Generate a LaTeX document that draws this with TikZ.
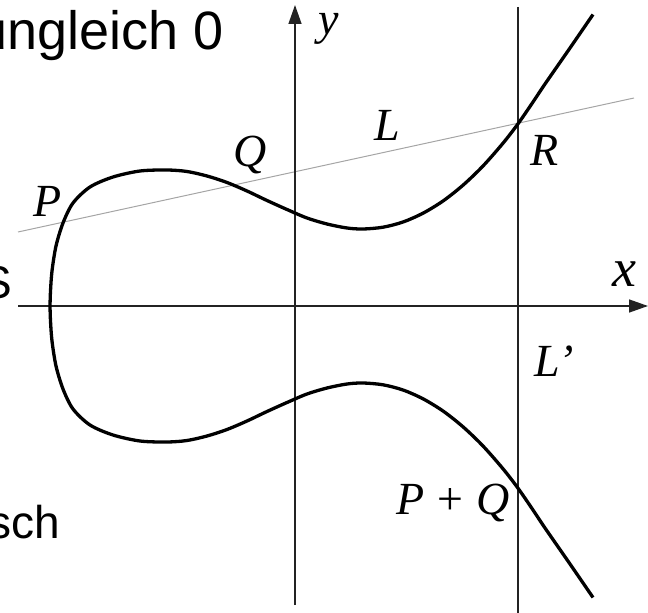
\documentclass[tikz,border=0pt]{standalone}
\usepackage{fontspec}
\setmainfont{Liberation Serif}
\newfontfamily\slidefont{Liberation Sans}
\usetikzlibrary{arrows.meta}
\definecolor{axisgray}{RGB}{35,35,35}
\definecolor{linegray}{RGB}{165,165,165}

\begin{document}
\begin{tikzpicture}[x=1pt, y=1pt,
    lbl/.style={inner sep=0pt, font=\fontsize{46}{50}\selectfont\itshape},
    slide/.style={inner sep=0pt, anchor=base east, font=\fontsize{46}{52}\slidefont},
    axis/.style={axisgray, line width=1.4pt},
    arr/.style={-{Triangle[length=19pt, width=13pt]}},
    curve/.style={black, line width=3.3pt, line join=round}
  ]
  \useasboundingbox (0,-307) rectangle (648,306);
  \clip (0,-307) rectangle (648,306);

  % slide text behind the figure
  \node[slide, font=\fontsize{54}{60}\slidefont] (tungleich) at (224,256) {ungleich 0};
  \node[slide] (tS)   at (12,7)    {S};
  \node[slide] (tsch) at (60,-232) {sch};

  % secant L
  \coordinate (Lstart) at (18,74);
  \coordinate (Lend)   at (634,208);
  \draw[linegray, line width=1pt] (Lstart) -- (Lend);

  % axes and vertical L'
  \coordinate (xstart) at (18,0);
  \coordinate (xend)   at (648,0);
  \coordinate (ystart) at (295,-299);
  \coordinate (yend)   at (295,301);
  \coordinate (Lptop)  at (518,299);
  \coordinate (Lpbot)  at (518,-307);
  \draw[axis, arr] (xstart) -- (xend);
  \draw[axis, arr] (ystart) -- (yend);
  \draw[axis] (Lptop) -- (Lpbot);

  % elliptic curve, upper and lower half
  \foreach \s in {1,-1}
    \draw[curve, yscale=\s] plot[smooth] coordinates {
      (50,0) (50.5,15) (52,35) (56,60) (63,83) (73,103) (90,119)
      (113,129) (140,135) (167,136) (187,134.5) (207,130) (227,123.5)
      (247,115) (267,105.5) (287,96.5) (307,88) (327,82) (347,78)
      (363,77) (383,78.8) (403,84) (423,92.8) (443,105) (463,120.8)
      (483,140) (503,162.8) (518,182.2) (533,204) (545,222) (570,258)
      (593,291.5)};

  % labels
  \node[lbl, font=\fontsize{54}{58}\selectfont\itshape] (lx) at (624,32) {x};
  \node[lbl] (ly)  at (329,277)  {y};
  \node[lbl] (lL)  at (387,181)  {L};
  \node[lbl] (lP)  at (48,105)   {P};
  \node[lbl] (lQ)  at (250,151)  {Q};
  \node[lbl] (lR)  at (545,156)  {R};
  \node[lbl] (lLp) at (554,-55)  {L’};
  \node[lbl] (lPQ) at (453,-197) {P\hspace{0.22em}+\hspace{0.22em}Q};
\end{tikzpicture}
\end{document}
